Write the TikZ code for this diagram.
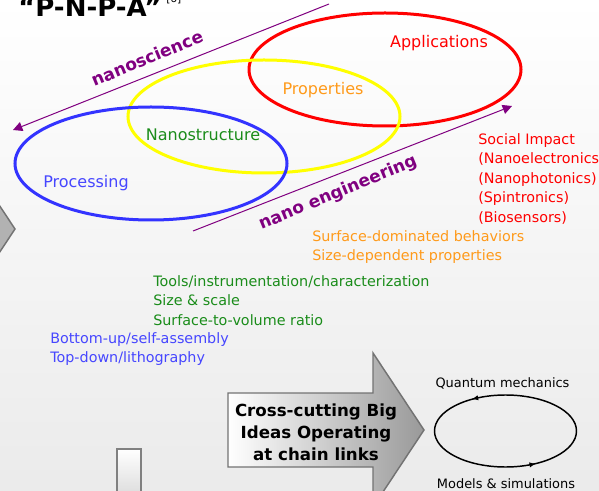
\documentclass[tikz,border=0pt]{standalone}
\usepackage{fontspec}
\setmainfont{DejaVu Sans}
\usetikzlibrary{arrows.meta,decorations.markings}
\definecolor{applred}{HTML}{FF0000}
\definecolor{propyellow}{HTML}{FFFF00}
\definecolor{procblue}{HTML}{3333FF}
\definecolor{nanopurple}{HTML}{800080}
\definecolor{proptext}{HTML}{FF9A1A}
\definecolor{nanogreen}{HTML}{1A8C1A}
\definecolor{proctext}{HTML}{4646FF}
\def\blockarrow{-- ++(145,0) -- ++(0,-40) -- ++(51,77) -- ++(-51,77) -- ++(0,-40) -- ++(-145,0) -- cycle}
\tikzset{
  ring/.style={line width=2.25pt},
  scalearrow/.style={draw=nanopurple, line width=0.75pt, -{Triangle[length=7pt,width=7pt]}},
  scaletag/.style={font=\fontsize{12.8}{14}\selectfont\bfseries, text=nanopurple, inner sep=0pt},
  ringtag/.style={font=\fontsize{12}{14}\selectfont, inner sep=0pt, anchor=base},
  notes/.style={font=\fontsize{10.75}{14.7}\selectfont, inner sep=0pt, align=left, anchor=north west},
  looptag/.style={font=\fontsize{9.7}{12}\selectfont, inner sep=0pt, anchor=base},
  looptip/.style={decoration={markings,
      mark=at position 0.18 with {\arrow{Latex[reversed,length=5pt,width=4pt]}},
      mark=at position 0.67 with {\arrow{Latex[reversed,length=5pt,width=4pt]}}},
    postaction={decorate}}
}
\begin{document}
\begin{tikzpicture}[x=0.75pt,y=-0.75pt]
\useasboundingbox (0,0) rectangle (599,491);
\clip (0,0) rectangle (599,491);
\shade[top color=white, bottom color=black!8] (0,0) rectangle (599,491);

\node[anchor=base west, inner sep=0pt, font=\fontsize{19.5}{22}\selectfont\bfseries] (title) at (18,17) {“P-N-P-A”};
\node[anchor=base west, inner sep=0pt, font=\fontsize{8}{9}\selectfont] (cite) at (166,3) {[6]};

\draw[ring, applred] (385,69.5) ellipse [x radius=136, y radius=56.5];
\draw[ring, propyellow] (264,116.5) ellipse [x radius=136, y radius=56.5];
\draw[ring, procblue] (151,163.5) ellipse [x radius=136, y radius=56.5];
\node[ringtag, text=applred] (appl) at (439,48) {Applications};
\node[ringtag, text=proptext] (prop) at (323,95) {Properties};
\node[ringtag, text=nanogreen] (struct) at (203,141) {Nanostructure};
\node[ringtag, text=proctext] (proc) at (86,188) {Processing};

\coordinate (sciA) at (329,4);
\coordinate (sciB) at (13,130);
\coordinate (engA) at (193,231);
\coordinate (engB) at (512,106);
\draw[scalearrow] (sciA) -- (sciB);
\draw[scalearrow] (engA) -- (engB);
\node[scaletag, rotate=22.5] (sci) at (147,58) {nanoscience};
\node[scaletag, rotate=22.5] (eng) at (338,193) {nano engineering};

\node[notes, text=applred] (social) at (478,133) {Social Impact\\(Nanoelectronics)\\(Nanophotonics)\\(Spintronics)\\(Biosensors)};
\node[notes, text=proptext] (surf) at (312,230) {Surface-dominated behaviors\\Size-dependent properties};
\node[notes, text=nanogreen] (tools) at (153,275) {Tools/instrumentation/characterization\\Size \& scale\\Surface-to-volume ratio};
\node[notes, text=proctext] (bottom) at (50,332) {Bottom-up/self-assembly\\Top-down/lithography};

\filldraw[fill=black!30, draw=black!55, line width=1.1pt] (-36,152) -- (15,229) -- (-36,306) -- cycle;
\shadedraw[top color=white, bottom color=black!15, draw=black!50, line width=1.1pt] (117,449) rectangle (141,500);
\shadedraw[left color=white, right color=black!40, draw=black!55, line width=1.1pt] (228,393) \blockarrow;
\node[font=\fontsize{12.5}{16.5}\selectfont\bfseries, align=center, inner sep=0pt] (cross) at (316,432) {Cross-cutting Big\\Ideas Operating\\at chain links};

\draw[line width=1.1pt, looptip] (505.5,431) ellipse [x radius=71, y radius=36];
\node[looptag] (quant) at (502.5,387) {Quantum mechanics};
\node[looptag] (model) at (506,488) {Models \& simulations};
\end{tikzpicture}
\end{document}
